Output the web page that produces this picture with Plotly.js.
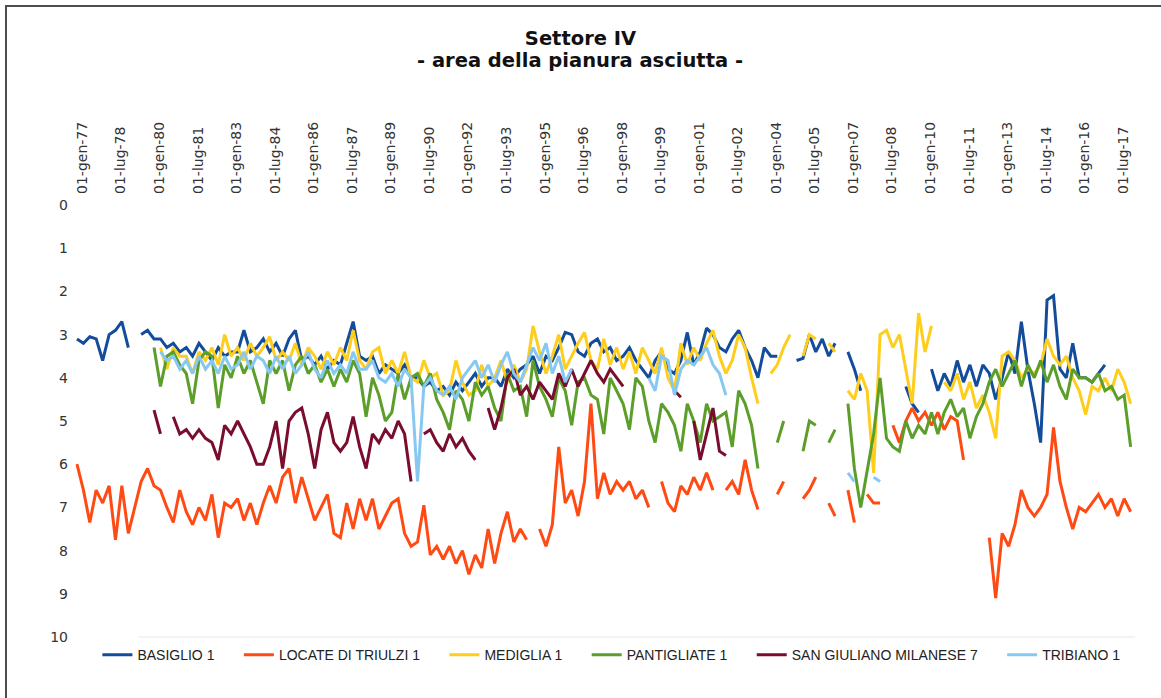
<!DOCTYPE html>
<html>
<head>
<meta charset="utf-8">
<script src="https://cdn.plot.ly/plotly-3.0.1.min.js"></script>
<style>
  html, body { margin: 0; padding: 0; background: #ffffff; }
  #wrap { position: relative; width: 1161px; height: 698px; overflow: hidden; }
  #chart { width: 1161px; height: 698px; }
  #frame {
    position: absolute; left: 5px; top: 5px; width: 1200px; height: 720px;
    border-left: 2px solid #4d4d4d; border-top: 2px solid #4d4d4d;
    pointer-events: none;
  }
</style>
</head>
<body>
<div id="wrap">
  <div id="chart"></div>
  <div id="frame"></div>
</div>
<script>
// Depth to groundwater (m below ground level), quarterly readings Oct 1976 - Oct 2017.
const _ = null;

const seriesNames = [
  'BASIGLIO 1', 'LOCATE DI TRIULZI 1', 'MEDIGLIA 1',
  'PANTIGLIATE 1', 'SAN GIULIANO MILANESE 7', 'TRIBIANO 1'
];
const seriesColors = ['#124c9b', '#ff4a14', '#ffcd1c', '#5c9e2a', '#7a0c2d', '#86c8f2'];

// Quarter dates: Oct 1976, then Jan/Apr/Jul/Oct of each year up to Oct 2017
const quarterDates = [];
for (let y = 1976, m = 10; y < 2018; ) {
  quarterDates.push(y + '-' + String(m).padStart(2, '0') + '-15');
  m += 3;
  if (m > 12) { m -= 12; y++; }
}

const basiglio = [
  3.1,                       // 1976
  3.2, 3.05, 3.1, 3.6,       // 1977
  3.0, 2.9, 2.7, 3.3,        // 1978
  _, 3.0, 2.9, 3.1,          // 1979
  3.1, 3.3, 3.2, 3.4,        // 1980
  3.3, 3.5, 3.2, 3.4,        // 1981
  3.6, 3.3, 3.5, 3.4,        // 1982
  3.4, 2.9, 3.4, 3.3,        // 1983
  3.1, 3.4, 3.2, 3.5,        // 1984
  3.1, 2.9, 3.6, 3.5,        // 1985
  3.7, 3.5, 3.8, 3.6,        // 1986
  3.7, 3.2, 2.7, 3.5,        // 1987
  3.6, 3.5, 3.9, 3.7,        // 1988
  3.8, 3.9, 3.7, 4.0,        // 1989
  4.0, 4.2, 4.1, 4.3,        // 1990
  4.2, 4.4, 4.1, 4.3,        // 1991
  4.1, 3.9, 4.2, 4.0,        // 1992
  4.0, 4.2, 3.8, 4.0,        // 1993
  3.8, 3.7, 3.5, 3.9,        // 1994
  3.5, 3.6, 3.3, 2.95,       // 1995
  3.0, 3.4, 3.5, 3.2,        // 1996
  3.1, 3.4, 3.3, 3.6,        // 1997
  3.5, 3.3, 3.6, 3.8,        // 1998
  4.0, 3.6, 3.4, 3.8,        // 1999
  3.9, 3.6, 2.95, 3.7,       // 2000
  3.4, 2.85, 3.0, 3.3,       // 2001
  3.4, 3.1, 2.9, 3.3,        // 2002
  3.6, 4.0, 3.3, 3.5,        // 2003
  3.5, _, _, 3.6,            // 2004
  3.55, 3.0, 3.4, 3.1,       // 2005
  3.5, 3.2, _, 3.4,          // 2006
  3.8, 4.3, _, _,            // 2007
  _, _, _, _,                // 2008
  4.2, 4.6, 4.8, _,          // 2009
  3.8, 4.3, 3.9, 4.2,        // 2010
  3.6, 4.1, 3.7, 4.2,        // 2011
  3.7, 3.9, 4.5, 4.0,        // 2012
  3.4, 3.9, 2.7, 3.8,        // 2013
  4.6, 5.5, 2.2, 2.1,        // 2014
  3.8, 4.0, 3.2, 4.0,        // 2015
  4.0, 4.1, 3.9, 3.7,        // 2016
  _, _, _, _                 // 2017
];

const locateTriulzi = [
  6.0,                       // 1976
  6.6, 7.35, 6.6, 6.9,       // 1977
  6.5, 7.75, 6.5, 7.6,       // 1978
  7.0, 6.4, 6.1, 6.5,        // 1979
  6.6, 7.0, 7.35, 6.6,       // 1980
  7.1, 7.4, 7.0, 7.3,        // 1981
  6.7, 7.7, 6.9, 7.0,        // 1982
  6.8, 7.3, 6.9, 7.4,        // 1983
  6.9, 6.5, 6.9, 6.3,        // 1984
  6.1, 6.9, 6.3, 6.8,        // 1985
  7.3, 7.0, 6.7, 7.6,        // 1986
  7.7, 6.9, 7.5, 6.8,        // 1987
  7.3, 6.8, 7.5, 7.2,        // 1988
  6.9, 6.8, 7.6, 7.9,        // 1989
  7.8, 6.95, 8.1, 7.9,       // 1990
  8.2, 7.9, 8.3, 8.0,        // 1991
  8.55, 8.1, 8.4, 7.5,       // 1992
  8.3, 7.6, 7.1, 7.8,        // 1993
  7.5, 7.75, _, 7.5,         // 1994
  7.9, 7.4, 5.6, 6.9,        // 1995
  6.6, 7.2, 6.4, 4.6,        // 1996
  6.8, 6.2, 6.7, 6.4,        // 1997
  6.6, 6.4, 6.8, 6.6,        // 1998
  7.0, _, 6.4, 6.9,          // 1999
  7.1, 6.5, 6.7, 6.3,        // 2000
  6.6, 6.2, 6.6, _,          // 2001
  6.6, 6.4, 6.7, 5.9,        // 2002
  6.6, 7.05, _, _,           // 2003
  6.7, 6.4, _, _,            // 2004
  6.8, 6.6, 6.3, _,          // 2005
  6.9, 7.2, _, 6.6,          // 2006
  7.35, _, 6.7, 6.9,         // 2007
  6.9, _, 5.1, 5.5,          // 2008
  5.0, 4.7, 5.0, 4.8,        // 2009
  5.1, 4.8, 5.2, 4.9,        // 2010
  5.0, 5.9, _, _,            // 2011
  _, 7.7, 9.1, 7.6,          // 2012
  7.9, 7.4, 6.6, 7.0,        // 2013
  7.2, 7.0, 6.7, 5.15,       // 2014
  6.4, 7.0, 7.5, 7.0,        // 2015
  7.1, 6.9, 6.7, 7.0,        // 2016
  6.8, 7.2, 6.8, 7.1         // 2017
];

const mediglia = [
  _,                         // 1976
  _, _, _, _,                // 1977
  _, _, _, _,                // 1978
  _, _, _, _,                // 1979
  3.3, 3.8, 3.3, 3.5,        // 1980
  3.5, 3.9, 3.4, 3.6,        // 1981
  3.3, 3.7, 3.0, 3.5,        // 1982
  3.3, 3.6, 3.2, 3.5,        // 1983
  3.3, 3.05, 3.6, 3.4,       // 1984
  3.6, 3.2, 3.7, 3.3,        // 1985
  3.5, 3.8, 3.4, 3.7,        // 1986
  3.3, 3.6, 2.9, 3.6,        // 1987
  3.8, 3.4, 3.3, 3.9,        // 1988
  3.6, 3.9, 3.4, 4.0,        // 1989
  4.1, 3.6, 4.0, 3.9,        // 1990
  4.4, 4.3, 3.6, 4.1,        // 1991
  4.4, 4.3, 3.7, 4.2,        // 1992
  4.0, 3.6, 4.1, 3.7,        // 1993
  4.1, 3.8, 2.8, 3.4,        // 1994
  3.9, 3.5, 3.0, 3.8,        // 1995
  3.5, 3.2, 2.95, 3.6,       // 1996
  3.8, 3.1, 3.7, 3.3,        // 1997
  3.8, 3.4, 3.9, 3.3,        // 1998
  3.6, 3.9, 3.3, 4.0,        // 1999
  4.3, 3.2, 3.7, 3.3,        // 2000
  3.6, 3.2, 2.9, 3.5,        // 2001
  3.9, 3.6, 3.0, 3.3,        // 2002
  4.0, 4.6, _, 3.9,          // 2003
  3.7, 3.3, 3.0, _,          // 2004
  3.5, 3.0, 3.1, _,          // 2005
  3.2, 3.4, _, 4.3,          // 2006
  4.5, 3.9, 4.3, 6.2,        // 2007
  3.0, 2.9, 3.3, 3.0,        // 2008
  3.8, 4.6, 2.5, 3.4,        // 2009
  2.8, _, 4.1, 4.3,          // 2010
  3.9, 4.5, 4.1, 4.7,        // 2011
  4.4, 4.8, 5.4, 3.5,        // 2012
  3.4, 3.6, 4.0, 3.8,        // 2013
  3.9, 3.7, 3.1, 3.5,        // 2014
  3.7, 3.5, 4.0, 4.3,        // 2015
  4.85, 4.2, 4.3, 4.0,       // 2016
  4.3, 3.8, 4.1, 4.6         // 2017
];

const pantigliate = [
  _,                         // 1976
  _, _, _, _,                // 1977
  _, _, _, _,                // 1978
  _, _, _, 3.3,              // 1979
  4.2, 3.5, 3.4, 3.7,        // 1980
  3.9, 4.6, 3.6, 3.4,        // 1981
  3.5, 4.7, 3.7, 4.0,        // 1982
  3.5, 3.9, 3.6, 4.1,        // 1983
  4.6, 3.6, 3.9, 3.6,        // 1984
  4.3, 3.7, 3.5, 3.9,        // 1985
  3.7, 4.1, 3.8, 4.2,        // 1986
  3.8, 4.1, 3.6, 3.9,        // 1987
  4.9, 4.0, 4.4, 5.0,        // 1988
  4.8, 3.9, 4.5, 4.0,        // 1989
  3.9, 4.2, 3.9, 4.5,        // 1990
  4.8, 5.2, 4.3, 4.5,        // 1991
  5.0, 4.1, 4.4, 4.2,        // 1992
  4.7, 5.0, 3.9, 4.3,        // 1993
  4.2, 4.9, 3.6, 4.2,        // 1994
  4.5, 4.9, 4.0, 4.3,        // 1995
  5.1, 4.1, 4.0, 4.4,        // 1996
  4.5, 5.3, 4.0, 4.3,        // 1997
  4.6, 5.2, 4.0, 4.2,        // 1998
  5.0, 5.5, 4.6, 4.8,        // 1999
  5.1, 5.7, 4.6, 5.0,        // 2000
  5.5, 4.6, 5.0, 4.9,        // 2001
  4.8, 5.6, 4.3, 4.6,        // 2002
  5.1, 6.1, _, _,            // 2003
  5.5, 5.0, _, _,            // 2004
  5.7, 5.0, 5.1, _,          // 2005
  5.5, 5.2, _, 4.6,          // 2006
  6.1, 7.0, 6.2, 5.3,        // 2007
  4.0, 5.4, 5.6, 5.7,        // 2008
  5.0, 5.4, 5.1, 5.3,        // 2009
  4.8, 5.3, 4.8, 4.5,        // 2010
  4.9, 4.7, 5.4, 4.9,        // 2011
  4.6, 4.1, 3.8, 4.2,        // 2012
  3.9, 3.6, 4.2, 3.7,        // 2013
  4.0, 3.6, 4.1, 3.7,        // 2014
  4.2, 4.5, 3.8, 4.0,        // 2015
  4.0, 4.1, 3.9, 4.3,        // 2016
  4.2, 4.5, 4.4, 5.6         // 2017
];

const sanGiuliano = [
  _,                         // 1976
  _, _, _, _,                // 1977
  _, _, _, _,                // 1978
  _, _, _, 4.75,             // 1979
  5.3, _, 4.9, 5.3,          // 1980
  5.2, 5.4, 5.2, 5.4,        // 1981
  5.5, 5.9, 5.1, 5.3,        // 1982
  5.0, 5.3, 5.6, 6.0,        // 1983
  6.0, 5.6, 5.0, 6.1,        // 1984
  5.0, 4.8, 4.7, 5.3,        // 1985
  6.1, 5.2, 4.8, 5.5,        // 1986
  5.7, 5.5, 4.9, 5.6,        // 1987
  6.1, 5.3, 5.5, 5.2,        // 1988
  5.4, 5.0, 5.3, 6.4,        // 1989
  _, 5.3, 5.2, 5.5,          // 1990
  5.7, 5.3, 5.6, 5.4,        // 1991
  5.7, 5.9, _, 4.7,          // 1992
  5.2, 4.7, 4.0, 3.8,        // 1993
  4.4, 4.2, 4.5, 4.1,        // 1994
  4.3, 4.5, 3.9, 4.2,        // 1995
  3.8, 4.2, 3.9, 3.6,        // 1996
  3.9, 4.1, 3.8, 4.0,        // 1997
  4.2, _, _, _,              // 1998
  _, _, _, _,                // 1999
  4.3, 4.45, _, 5.0,         // 2000
  5.9, 5.3, 4.7, 5.7,        // 2001
  5.8, _, _, _,              // 2002
  _, _, _, _,                // 2003
  _, _, _, _,                // 2004
  _, _, _, _,                // 2005
  _, _, _, _,                // 2006
  _, _, _, _,                // 2007
  _, _, _, _,                // 2008
  _, _, _, _,                // 2009
  _, _, _, _,                // 2010
  _, _, _, _,                // 2011
  _, _, _, _,                // 2012
  _, _, _, _,                // 2013
  _, _, _, _,                // 2014
  _, _, _, _,                // 2015
  _, _, _, _,                // 2016
  _, _, _, _                 // 2017
];

const tribiano = [
  _,                         // 1976
  _, _, _, _,                // 1977
  _, _, _, _,                // 1978
  _, _, _, _,                // 1979
  3.4, 3.6, 3.5, 3.8,        // 1980
  3.6, 3.9, 3.5, 3.8,        // 1981
  3.6, 3.9, 3.5, 3.8,        // 1982
  3.7, 3.4, 3.8, 3.5,        // 1983
  3.6, 3.9, 3.5, 3.8,        // 1984
  3.5, 3.9, 3.7, 3.4,        // 1985
  3.8, 4.0, 3.6, 3.9,        // 1986
  3.7, 3.9, 3.4, 3.8,        // 1987
  3.8, 3.6, 4.0, 4.1,        // 1988
  3.9, 4.2, 3.8, 4.0,        // 1989
  6.4, 4.2, 4.0, 4.3,        // 1990
  4.4, 4.2, 4.5, 4.0,        // 1991
  3.8, 3.6, 4.0, 3.7,        // 1992
  4.1, 3.7, 3.4, 3.9,        // 1993
  4.1, 3.7, 3.3, 3.6,        // 1994
  3.2, 3.9, 3.5, 4.1,        // 1995
  3.8, _, _, _,              // 1996
  _, _, _, _,                // 1997
  _, _, _, _,                // 1998
  4.0, 4.3, 3.5, 3.6,        // 1999
  4.4, 3.8, 3.6, 3.7,        // 2000
  3.5, 3.3, 3.7, 3.9,        // 2001
  4.4, _, _, _,              // 2002
  _, _, _, _,                // 2003
  _, _, _, _,                // 2004
  _, _, _, _,                // 2005
  _, _, _, 6.2,              // 2006
  6.4, _, _, 6.3,            // 2007
  6.4, _, _, _,              // 2008
  _, _, _, _,                // 2009
  _, _, _, _,                // 2010
  _, _, _, _,                // 2011
  _, _, _, _,                // 2012
  _, _, _, _,                // 2013
  _, _, _, _,                // 2014
  _, _, _, _,                // 2015
  _, _, _, _,                // 2016
  _, _, _, _                 // 2017
];

// Axis labels along the top, every 18 months
const tickDates = [
  '1977-01-01', '1978-07-01', '1980-01-01', '1981-07-01', '1983-01-01', '1984-07-01',
  '1986-01-01', '1987-07-01', '1989-01-01', '1990-07-01', '1992-01-01', '1993-07-01',
  '1995-01-01', '1996-07-01', '1998-01-01', '1999-07-01', '2001-01-01', '2002-07-01',
  '2004-01-01', '2005-07-01', '2007-01-01', '2008-07-01', '2010-01-01', '2011-07-01',
  '2013-01-01', '2014-07-01', '2016-01-01', '2017-07-01'
];
const tickLabels = [
  '01-gen-77', '01-lug-78', '01-gen-80', '01-lug-81', '01-gen-83', '01-lug-84',
  '01-gen-86', '01-lug-87', '01-gen-89', '01-lug-90', '01-gen-92', '01-lug-93',
  '01-gen-95', '01-lug-96', '01-gen-98', '01-lug-99', '01-gen-01', '01-lug-02',
  '01-gen-04', '01-lug-05', '01-gen-07', '01-lug-08', '01-gen-10', '01-lug-11',
  '01-gen-13', '01-lug-14', '01-gen-16', '01-lug-17'
];

const seriesValues = [basiglio, locateTriulzi, mediglia, pantigliate, sanGiuliano, tribiano];

// a little trailing room after each legend entry
const legendPad = '\u00a0\u00a0\u00a0\u00a0\u00a0';

const traces = seriesValues.map((vals, i) => ({
  type: 'scatter',
  mode: 'lines',
  name: seriesNames[i] + legendPad,
  x: quarterDates,
  y: vals,
  connectgaps: false,
  line: { color: seriesColors[i], width: 3 }
}));

const layout = {
  width: 1161,
  height: 698,
  paper_bgcolor: '#ffffff',
  plot_bgcolor: '#ffffff',
  margin: { l: 75, r: 26, t: 205, b: 61 },
  showlegend: true,
  title: {
    text: '<b>Settore IV</b>',
    font: { family: 'DejaVu Sans', size: 19.5, color: '#111111' },
    x: 0.5, xanchor: 'center',
    y: 0.9456, yanchor: 'middle'
  },
  annotations: [
    {
      text: '<b>- area della pianura asciutta -</b>',
      xref: 'paper', yref: 'paper',
      x: 0.4764, xanchor: 'center',
      y: 1.3356, yanchor: 'middle',
      showarrow: false,
      font: { family: 'DejaVu Sans', size: 19.5, color: '#111111' }
    }
  ],
  xaxis: {
    type: 'date',
    side: 'top',
    range: ['1976-09-17', '2017-12-16'],
    tickmode: 'array',
    tickvals: tickDates,
    ticktext: tickLabels,
    tickangle: -90,
    tickfont: { family: 'DejaVu Sans', size: 14, color: '#333333' },
    ticks: '',
    ticklabelstandoff: 10,
    showgrid: false,
    showline: false,
    zeroline: false
  },
  yaxis: {
    range: [10, 0],
    tick0: 0,
    dtick: 1,
    tickfont: { family: 'DejaVu Sans', size: 14, color: '#333333' },
    ticks: '',
    ticklabelstandoff: 6,
    showgrid: false,
    showline: false,
    zeroline: false
  },
  legend: {
    orientation: 'h',
    x: 0.515, xanchor: 'center',
    y: -0.042, yanchor: 'middle',
    font: { family: 'Liberation Sans', size: 14, color: '#222222' },
    bgcolor: 'rgba(0,0,0,0)'
  },
  shapes: [
    // faint baseline at the bottom of the plot
    { type: 'line', xref: 'paper', yref: 'paper', x0: 0.06, x1: 1.0, y0: 0, y1: 0,
      line: { color: '#e3e7ed', width: 1 } }
  ]
};

Plotly.newPlot('chart', traces, layout, { staticPlot: true, displayModeBar: false });
</script>
</body>
</html>
